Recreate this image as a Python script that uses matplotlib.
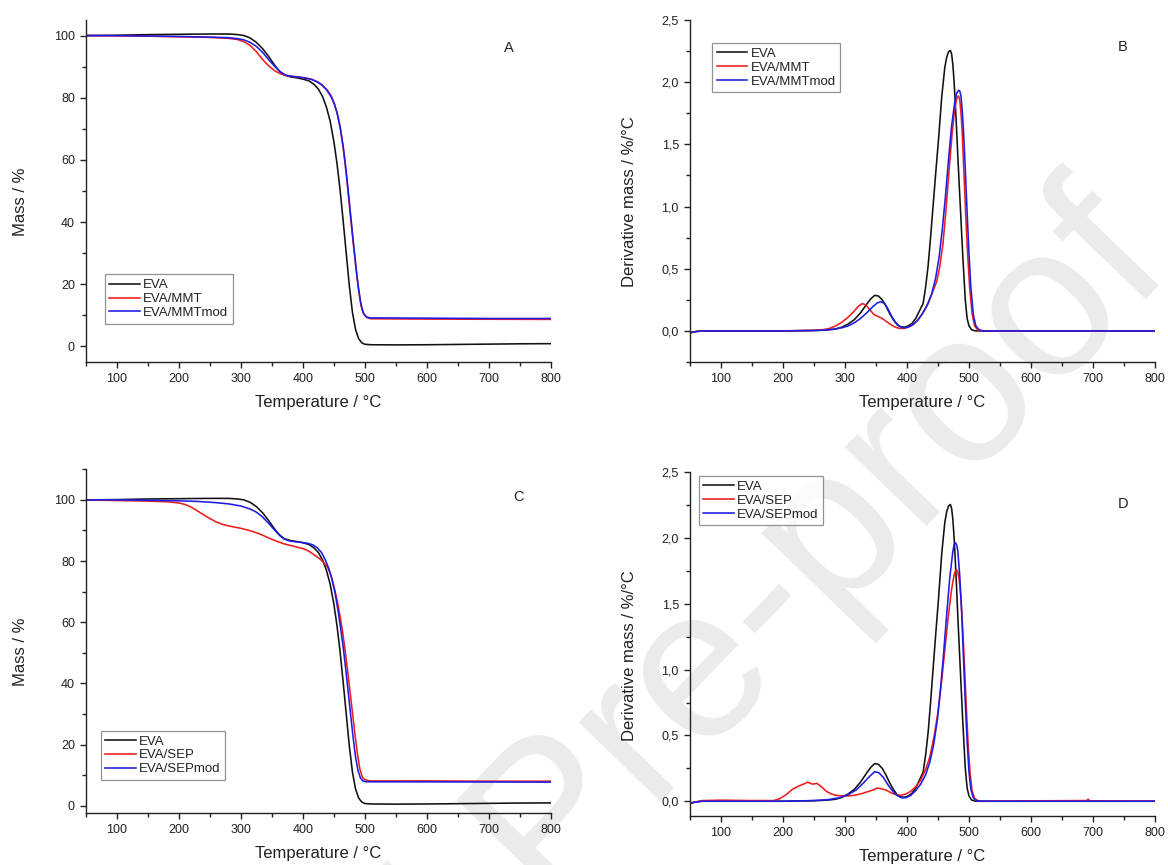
import matplotlib
matplotlib.use("Agg")
import matplotlib.pyplot as plt
from matplotlib.ticker import MultipleLocator, FuncFormatter

plt.rcParams['font.family'] = ['Liberation Sans', 'DejaVu Sans']

# ---------------- data ----------------
# TGA EVA (panels A and C)
T_tga_eva = [50, 100, 150, 200, 250, 280, 295, 305, 315, 325, 335, 345, 355, 362, 370, 380, 390, 400, 410, 418,
             425, 432, 438, 444, 450, 455, 460, 465, 470, 475, 480, 485, 490, 495, 500, 510, 550, 600, 650, 700, 750, 800]
M_tga_eva = [100.0, 100.1, 100.3, 100.4, 100.5, 100.5, 100.3, 100.0, 99.2, 97.8, 95.8, 93.2, 90.3, 88.6, 87.3, 86.7,
             86.4, 86.0, 85.4, 84.3, 82.8, 80.3, 77.0, 72.5, 66.0, 59.0, 50.5, 40.5, 30.0, 19.5, 11.0, 5.5, 2.5, 1.2,
             0.7, 0.55, 0.5, 0.55, 0.65, 0.75, 0.85, 0.9]

# TGA EVA/MMT (A)
T_tga_mmt = [50, 100, 150, 200, 250, 280, 295, 305, 315, 325, 332, 340, 348, 356, 365, 375, 385, 395, 405, 415, 425,
             432, 440, 446, 451, 456, 461, 466, 470, 474, 478, 482, 486, 490, 494, 498, 503, 510, 550, 600, 700, 800]
M_tga_mmt = [100.0, 99.9, 99.8, 99.6, 99.4, 99.1, 98.7, 98.0, 96.8, 94.8, 93.0, 91.2, 89.7, 88.5, 87.6, 87.0, 86.8,
             86.6, 86.3, 85.9, 85.0, 84.0, 82.3, 80.5, 78.0, 74.5, 69.5, 62.5, 55.5, 47.5, 39.5, 32.0, 24.5, 18.0,
             13.0, 10.5, 9.3, 8.9, 8.85, 8.8, 8.75, 8.7]

# TGA EVA/MMTmod (A)
T_tga_mmtmod = [50, 100, 150, 200, 250, 280, 295, 305, 315, 325, 335, 345, 355, 363, 372, 382, 392, 402, 412, 422,
                430, 438, 445, 450, 455, 460, 465, 469, 473, 477, 481, 485, 489, 493, 497, 502, 508, 550, 600, 700, 800]
M_tga_mmtmod = [100.0, 99.95, 99.85, 99.7, 99.5, 99.3, 99.0, 98.6, 97.8, 96.5, 94.6, 92.2, 90.0, 88.4, 87.3, 86.9,
                86.7, 86.4, 86.0, 85.2, 84.2, 82.6, 80.5, 78.4, 75.3, 70.8, 64.5, 58.0, 50.5, 42.5, 34.5, 27.0, 20.0,
                14.5, 11.0, 9.6, 9.2, 9.15, 9.1, 9.0, 9.0]

# TGA EVA/SEP (C)
T_tga_sep = [50, 100, 150, 180, 200, 210, 220, 230, 240, 250, 260, 270, 280, 290, 300, 310, 320, 330, 340, 350, 360,
             370, 380, 390, 400, 410, 420, 428, 435, 440, 446, 451, 456, 460, 464, 468, 472, 476, 480, 484, 488, 492,
             496, 500, 505, 510, 600, 700, 800]
M_tga_sep = [100.0, 99.8, 99.6, 99.4, 99.0, 98.5, 97.6, 96.4, 95.1, 93.9, 92.8, 92.0, 91.5, 91.1, 90.7, 90.2, 89.6,
             88.9, 88.0, 87.1, 86.3, 85.6, 85.1, 84.6, 84.1, 83.2, 81.8, 80.6, 79.2, 78.0, 75.0, 71.0, 66.5, 62.0,
             57.0, 51.0, 44.5, 37.5, 30.5, 23.5, 17.0, 12.0, 9.3, 8.5, 8.2, 8.1, 8.1, 8.0, 8.0]

# TGA EVA/SEPmod (C)
T_tga_sepmod = [50, 100, 150, 200, 230, 260, 280, 300, 315, 325, 335, 345, 355, 363, 370, 378, 388, 398, 408, 416,
                423, 430, 436, 442, 447, 452, 457, 461, 465, 469, 473, 477, 481, 485, 489, 493, 497, 503, 550, 800]
M_tga_sepmod = [100.0, 100.0, 99.9, 99.7, 99.5, 99.1, 98.7, 98.0, 97.0, 96.0, 94.4, 92.3, 90.0, 88.3, 87.2, 86.6,
                86.3, 86.1, 85.8, 85.3, 84.4, 82.8, 80.5, 77.5, 74.0, 69.5, 63.5, 58.0, 52.0, 45.0, 37.5, 30.0, 22.5,
                16.0, 11.5, 9.0, 8.1, 7.8, 7.8, 7.7]

# DTG EVA (panels B and D)
T_dtg_eva = [50, 60, 70, 100, 150, 200, 250, 270, 285, 295, 305, 315, 325, 335, 342, 348, 354, 360, 366, 372, 378,
             384, 390, 396, 402, 408, 414, 420, 426, 430, 434, 438, 442, 446, 451, 456, 461, 464, 467, 470, 472, 474,
             476, 478, 480, 482, 486, 490, 494, 497, 500, 504, 510, 600, 700, 800]
D_dtg_eva = [-0.015, -0.005, 0.0, 0.0, 0.0, 0.0, 0.003, 0.008, 0.015, 0.03, 0.055, 0.09, 0.145, 0.215, 0.26, 0.286,
             0.28, 0.25, 0.2, 0.14, 0.09, 0.05, 0.033, 0.03, 0.04, 0.06, 0.1, 0.16, 0.22, 0.35, 0.52, 0.75, 1.0, 1.25,
             1.55, 1.88, 2.12, 2.2, 2.245, 2.255, 2.225, 2.14, 2.0, 1.82, 1.62, 1.4, 1.0, 0.6, 0.25, 0.1, 0.04, 0.01,
             0.0, 0.0, 0.0, 0.0]

# DTG EVA/MMT (B)
T_dtg_mmt = [50, 60, 70, 150, 200, 250, 265, 275, 285, 295, 305, 315, 322, 328, 333, 340, 347, 354, 360, 367, 374,
             381, 388, 395, 402, 410, 418, 426, 434, 442, 448, 453, 458, 463, 468, 473, 476, 479, 481, 483, 485, 487,
             489, 492, 495, 498, 501, 505, 509, 514, 520, 600, 800]
D_dtg_mmt = [-0.015, -0.005, 0.0, 0.0, 0.0, 0.005, 0.01, 0.02, 0.04, 0.07, 0.11, 0.16, 0.2, 0.22, 0.21, 0.17, 0.13,
             0.115, 0.1, 0.075, 0.05, 0.03, 0.02, 0.02, 0.03, 0.05, 0.09, 0.15, 0.22, 0.32, 0.4, 0.52, 0.7, 0.98, 1.3,
             1.6, 1.74, 1.84, 1.88, 1.89, 1.86, 1.76, 1.6, 1.25, 0.9, 0.6, 0.35, 0.14, 0.04, 0.008, 0.0, 0.0, 0.0]

# DTG EVA/MMTmod (B)
T_dtg_mmtmod = [50, 60, 70, 200, 260, 280, 295, 305, 315, 325, 335, 345, 352, 358, 364, 370, 376, 382, 388, 394,
                400, 408, 416, 424, 432, 440, 446, 452, 457, 462, 467, 472, 477, 480, 483, 485, 487, 489, 491, 494,
                497, 500, 503, 507, 511, 516, 522, 600, 800]
D_dtg_mmtmod = [-0.015, -0.005, 0.0, 0.0, 0.004, 0.012, 0.025, 0.04, 0.065, 0.1, 0.145, 0.195, 0.225, 0.235, 0.22,
                0.17, 0.11, 0.065, 0.035, 0.025, 0.028, 0.045, 0.08, 0.13, 0.2, 0.3, 0.42, 0.6, 0.82, 1.08, 1.38,
                1.65, 1.84, 1.91, 1.935, 1.93, 1.89, 1.78, 1.62, 1.3, 0.95, 0.62, 0.35, 0.13, 0.04, 0.01, 0.0, 0.0,
                0.0]

# DTG EVA/SEP (D)
T_dtg_sep = [50, 60, 70, 100, 150, 185, 195, 205, 215, 225, 233, 240, 247, 255, 262, 270, 278, 286, 295, 305, 315,
             325, 335, 345, 352, 358, 366, 374, 382, 390, 398, 406, 414, 422, 430, 437, 444, 450, 456, 461, 466, 471,
             474, 476, 478, 480, 482, 484, 487, 490, 493, 496, 499, 502, 505, 509, 514, 520, 600, 690, 692, 695, 800]
D_dtg_sep = [-0.015, -0.005, 0.005, 0.008, 0.005, 0.005, 0.02, 0.05, 0.09, 0.115, 0.13, 0.145, 0.13, 0.135, 0.11,
             0.075, 0.055, 0.045, 0.04, 0.04, 0.045, 0.055, 0.07, 0.085, 0.1, 0.095, 0.085, 0.065, 0.05, 0.045,
             0.055, 0.075, 0.11, 0.16, 0.24, 0.34, 0.5, 0.68, 0.92, 1.15, 1.38, 1.58, 1.67, 1.72, 1.75, 1.76, 1.74,
             1.69, 1.55, 1.3, 1.0, 0.68, 0.4, 0.2, 0.08, 0.02, 0.005, 0.0, 0.003, 0.005, 0.015, 0.003, 0.0]

# DTG EVA/SEPmod (D)
T_dtg_sepmod = [50, 60, 70, 200, 240, 270, 290, 305, 318, 330, 340, 348, 355, 362, 370, 378, 385, 392, 399, 406,
                414, 422, 430, 437, 443, 449, 454, 459, 464, 469, 472, 474, 476, 478, 480, 482, 485, 488, 491, 494,
                497, 500, 503, 507, 512, 520, 800]
D_dtg_sepmod = [-0.015, -0.005, 0.0, 0.0, 0.004, 0.01, 0.025, 0.05, 0.085, 0.14, 0.19, 0.225, 0.215, 0.18, 0.12,
                0.07, 0.04, 0.025, 0.028, 0.045, 0.08, 0.13, 0.2, 0.3, 0.43, 0.62, 0.85, 1.12, 1.42, 1.7, 1.82, 1.9,
                1.95, 1.965, 1.95, 1.9, 1.72, 1.45, 1.1, 0.75, 0.45, 0.22, 0.09, 0.025, 0.005, 0.0, 0.0]

labels_mmt = ["EVA", "EVA/MMT", "EVA/MMTmod"]
labels_sep = ["EVA", "EVA/SEP", "EVA/SEPmod"]
panel_letters = ["A", "B", "C", "D"]
xlabel = "Temperature / °C"
ylabel_tga = "Mass / %"
ylabel_dtg = "Derivative mass / %/°C"
watermark = "Journal Pre-proof"

# ---------------- styling ----------------
COLORS = ["#111111", "#ee1c1c", "#1c1ce6"]
LW = 1.15

fig = plt.figure(figsize=(11.68, 8.65), dpi=100)

rects = {
    "A": [86 / 1168, 1 - 362 / 865, (550.7 - 86) / 1168, (362 - 20) / 865],
    "B": [690 / 1168, 1 - 362 / 865, (1155 - 690) / 1168, (362 - 20) / 865],
    "C": [86 / 1168, 1 - 813.3 / 865, (550.7 - 86) / 1168, (813.3 - 469.3) / 865],
    "D": [690 / 1168, 1 - 815.7 / 865, (1155 - 690) / 1168, (815.7 - 472.3) / 865],
}

# watermark (drawn behind the transparent axes)
fig.text(0.0169, -0.695, watermark, fontsize=155, color="#ebebeb", rotation=46,
         rotation_mode="anchor", ha="left", va="baseline", zorder=-5)

comma = FuncFormatter(lambda v, p: f"{v:.1f}".replace(".", ","))


def style(ax):
    for s in ["top", "right"]:
        ax.spines[s].set_visible(False)
    for s in ["left", "bottom"]:
        ax.spines[s].set_linewidth(1.0)
        ax.spines[s].set_color("#222222")
    ax.set_facecolor("none")
    ax.set_xlim(50, 800)
    ax.xaxis.set_major_locator(MultipleLocator(100))
    ax.xaxis.set_minor_locator(MultipleLocator(50))
    ax.tick_params(which="major", direction="out", length=4.5, width=1.0, labelsize=9, pad=3.5,
                   color="#222222", labelcolor="#222222")
    ax.tick_params(which="minor", direction="out", length=3, width=1.0, color="#222222")
    ax.set_xlabel(xlabel, fontsize=12, labelpad=7, color="#222222")


def add_legend(ax, handles, labels, x, y):
    leg = ax.legend(handles, labels, loc="upper left", bbox_to_anchor=(x, y), fontsize=9.5, frameon=True,
                    fancybox=False, edgecolor="#777777", handlelength=2.3, handletextpad=0.25, labelspacing=0.12,
                    borderpad=0.35, borderaxespad=0.0)
    leg.get_frame().set_linewidth(0.9)
    for t in leg.get_texts():
        t.set_color("#222222")


# Panel A
ax = fig.add_axes(rects["A"])
style(ax)
hs = []
for T, M, c in [(T_tga_eva, M_tga_eva, COLORS[0]), (T_tga_mmt, M_tga_mmt, COLORS[1]), (T_tga_mmtmod, M_tga_mmtmod, COLORS[2])]:
    hs.append(ax.plot(T, M, color=c, lw=LW)[0])
ax.set_ylim(-5, 105)
ax.yaxis.set_major_locator(MultipleLocator(20))
ax.yaxis.set_minor_locator(MultipleLocator(10))
ax.set_ylabel(ylabel_tga, fontsize=12, color="#222222")
ax.yaxis.set_label_coords(-0.125, 0.47)
add_legend(ax, hs, labels_mmt, 0.040, 0.256)
ax.text(0.909, 0.917, panel_letters[0], transform=ax.transAxes, fontsize=10.5, ha="center", va="center", color="#222222")

# Panel B
ax = fig.add_axes(rects["B"])
style(ax)
hs = []
for T, D, c in [(T_dtg_eva, D_dtg_eva, COLORS[0]), (T_dtg_mmt, D_dtg_mmt, COLORS[1]), (T_dtg_mmtmod, D_dtg_mmtmod, COLORS[2])]:
    hs.append(ax.plot(T, D, color=c, lw=LW)[0])
ax.set_ylim(-0.2501, 2.5)
ax.yaxis.set_major_locator(MultipleLocator(0.5))
ax.yaxis.set_minor_locator(MultipleLocator(0.25))
ax.yaxis.set_major_formatter(comma)
ax.set_ylabel(ylabel_dtg, fontsize=12, color="#222222")
ax.yaxis.set_label_coords(-0.113, 0.47)
add_legend(ax, hs, labels_mmt, 0.048, 0.932)
ax.text(0.930, 0.922, panel_letters[1], transform=ax.transAxes, fontsize=10.5, ha="center", va="center", color="#222222")

# Panel C
ax = fig.add_axes(rects["C"])
style(ax)
hs = []
for T, M, c in [(T_tga_eva, M_tga_eva, COLORS[0]), (T_tga_sep, M_tga_sep, COLORS[1]), (T_tga_sepmod, M_tga_sepmod, COLORS[2])]:
    hs.append(ax.plot(T, M, color=c, lw=LW)[0])
ax.set_ylim(-2.5, 110.01)
ax.yaxis.set_major_locator(MultipleLocator(20))
ax.yaxis.set_minor_locator(MultipleLocator(10))
ax.set_ylabel(ylabel_tga, fontsize=12, color="#222222")
ax.yaxis.set_label_coords(-0.125, 0.47)
add_legend(ax, hs, labels_sep, 0.032, 0.240)
ax.text(0.931, 0.919, panel_letters[2], transform=ax.transAxes, fontsize=10.5, ha="center", va="center", color="#222222")

# Panel D
ax = fig.add_axes(rects["D"])
style(ax)
hs = []
for T, D, c in [(T_dtg_eva, D_dtg_eva, COLORS[0]), (T_dtg_sep, D_dtg_sep, COLORS[1]), (T_dtg_sepmod, D_dtg_sepmod, COLORS[2])]:
    hs.append(ax.plot(T, D, color=c, lw=LW)[0])
ax.set_ylim(-0.11, 2.5)
ax.yaxis.set_major_locator(MultipleLocator(0.5))
ax.yaxis.set_minor_locator(MultipleLocator(0.25))
ax.yaxis.set_major_formatter(comma)
ax.set_ylabel(ylabel_dtg, fontsize=12, color="#222222")
ax.yaxis.set_label_coords(-0.113, 0.466)
add_legend(ax, hs, labels_sep, 0.019, 0.989)
ax.text(0.931, 0.908, panel_letters[3], transform=ax.transAxes, fontsize=10.5, ha="center", va="center", color="#222222")

fig.savefig("out.png", dpi=100, facecolor="white")
